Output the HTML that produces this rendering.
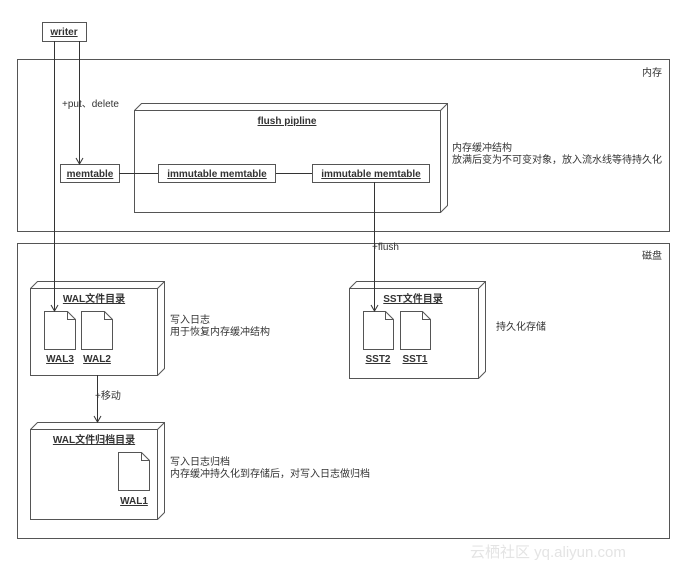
<!DOCTYPE html>
<html><head><meta charset="utf-8"><style>
html,body{margin:0;padding:0;background:#fff}
svg{display:block}
text{font-family:"Liberation Sans","Noto Sans CJK SC",sans-serif;font-size:10px;fill:#333}
.b{font-weight:bold;text-decoration:underline}
</style></head><body>
<svg width="688" height="562" viewBox="0 0 688 562" xmlns="http://www.w3.org/2000/svg">
<g stroke="#555" fill="#fff" stroke-width="1">
<!-- outer boxes -->
<rect x="17.5" y="59.5" width="652" height="172"/>
<rect x="17.5" y="243.5" width="652" height="295"/>
<!-- writer -->
<rect x="42.5" y="22.5" width="44" height="19"/>
<!-- flush pipeline 3D -->
<path d="M134.5 110.5 L141.5 103.5 L447.5 103.5 L447.5 205.5 L440.5 212.5 M440.5 110.5 L447.5 103.5"/>
<rect x="134.5" y="110.5" width="306" height="102"/>
<rect x="60.5" y="164.5" width="59" height="18"/>
<rect x="158.5" y="164.5" width="117" height="18"/>
<rect x="312.5" y="164.5" width="117" height="18"/>
<!-- WAL dir -->
<path d="M30.5 288.5 L37.5 281.5 L164.5 281.5 L164.5 368.5 L157.5 375.5 M157.5 288.5 L164.5 281.5"/>
<rect x="30.5" y="288.5" width="127" height="87"/>
<!-- archive -->
<path d="M30.5 429.5 L37.5 422.5 L164.5 422.5 L164.5 512.5 L157.5 519.5 M157.5 429.5 L164.5 422.5"/>
<rect x="30.5" y="429.5" width="127" height="90"/>
<!-- SST dir -->
<path d="M349.5 288.5 L356.5 281.5 L485.5 281.5 L485.5 371.5 L478.5 378.5 M478.5 288.5 L485.5 281.5"/>
<rect x="349.5" y="288.5" width="129" height="90"/>
<!-- files -->
<path d="M44.5 311.5 H67.5 L75.5 319.5 V349.5 H44.5 Z M67.5 311.5 V319.5 H75.5"/>
<path d="M81.5 311.5 H104.5 L112.5 319.5 V349.5 H81.5 Z M104.5 311.5 V319.5 H112.5"/>
<path d="M118.5 452.5 H141.5 L149.5 460.5 V490.5 H118.5 Z M141.5 452.5 V460.5 H149.5"/>
<path d="M363.5 311.5 H385.5 L393.5 319.5 V349.5 H363.5 Z M385.5 311.5 V319.5 H393.5"/>
<path d="M400.5 311.5 H422.5 L430.5 319.5 V349.5 H400.5 Z M422.5 311.5 V319.5 H430.5"/>
</g>
<g stroke="#333" fill="none" stroke-width="1">
<path d="M54.5 41 V311 M51 305 L54.5 311 L58 305"/>
<path d="M79.5 41 V164 M76 158 L79.5 164 L83 158"/>
<path d="M119 173.5 H158 M276 173.5 H312"/>
<path d="M374.5 182 V311 M371 305 L374.5 311 L378 305"/>
<path d="M97.5 375 V422 M94 416 L97.5 422 L101 416"/>
</g>
<text x="64" y="35" text-anchor="middle" class="b">writer</text>
<text x="642" y="76">内存</text>
<text x="642" y="259">磁盘</text>
<text x="62" y="107">+put、delete</text>
<text x="287" y="124" text-anchor="middle" class="b">flush pipline</text>
<text x="90" y="177" text-anchor="middle" class="b">memtable</text>
<text x="217" y="177" text-anchor="middle" class="b">immutable memtable</text>
<text x="371" y="177" text-anchor="middle" class="b">immutable memtable</text>
<text x="452" y="151">内存缓冲结构</text>
<text x="452" y="163">放满后变为不可变对象，放入流水线等待持久化</text>
<text x="372" y="250">+flush</text>
<text x="94" y="302" text-anchor="middle" class="b">WAL文件目录</text>
<text x="60" y="362" text-anchor="middle" class="b">WAL3</text>
<text x="97" y="362" text-anchor="middle" class="b">WAL2</text>
<text x="170" y="323">写入日志</text>
<text x="170" y="335">用于恢复内存缓冲结构</text>
<text x="95" y="399">+移动</text>
<text x="94" y="443" text-anchor="middle" class="b">WAL文件归档目录</text>
<text x="134" y="504" text-anchor="middle" class="b">WAL1</text>
<text x="170" y="465">写入日志归档</text>
<text x="170" y="477">内存缓冲持久化到存储后，对写入日志做归档</text>
<text x="413" y="302" text-anchor="middle" class="b">SST文件目录</text>
<text x="378" y="362" text-anchor="middle" class="b">SST2</text>
<text x="415" y="362" text-anchor="middle" class="b">SST1</text>
<text x="496" y="330">持久化存储</text>
<text x="470" y="557" style="font-size:15px;fill:#e4e4e4">云栖社区 yq.aliyun.com</text>
</svg>
</body></html>
